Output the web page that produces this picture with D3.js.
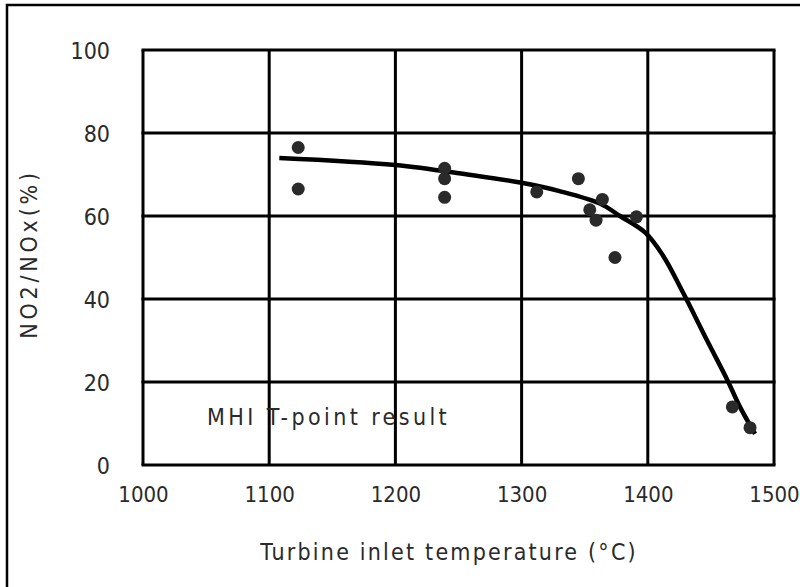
<!DOCTYPE html>
<html>
<head>
<meta charset="utf-8">
<script src="https://cdn.jsdelivr.net/npm/d3@7"></script>
<style>
  html, body { margin: 0; padding: 0; background: #fff; }
  svg { display: block; }
  text { font-family: "Liberation Sans Narrow", "DejaVu Sans Condensed", sans-serif; fill: #2a2a2a; }
</style>
</head>
<body>
<svg id="chart" width="800" height="587"></svg>
<script>
// Measured points (turbine inlet temperature °C, NO2/NOx %)
const pointTemps = [1123, 1123, 1239, 1239, 1239, 1312, 1345, 1354, 1359, 1364, 1374, 1391, 1467, 1481];
const pointValues = [76.5, 66.5, 71.5, 69, 64.5, 65.8, 69, 61.5, 59, 64, 50, 59.8, 14, 9];

// Trend curve
const curveTemps = [1108, 1200, 1257, 1300, 1330, 1362, 1378, 1398, 1412, 1428, 1447, 1463, 1473, 1485];
const curveValues = [74, 72.3, 70, 68, 66, 63, 60, 56, 50.5, 41.5, 30, 20.5, 14, 7.5];

const xTicks = [1000, 1100, 1200, 1300, 1400, 1500];
const yTicks = [0, 20, 40, 60, 80, 100];

const xTitle = "Turbine inlet temperature (\u00B0C)";
const yTitle = "NO2/NOx(%)";
const note = "MHI T-point result";

const FONT = "Liberation Sans Narrow, DejaVu Sans Condensed, sans-serif";

const svg = d3.select("#chart");
const W = 800, H = 587;
const m = { left: 143, right: 26, top: 50, bottom: 122 };

// outer frame
svg.append("path")
  .attr("d", `M7,${H + 5} L7,5 L${W + 5},5`)
  .attr("fill", "none").attr("stroke", "#000").attr("stroke-width", 2.5);

const x = d3.scaleLinear().domain([1000, 1500]).range([m.left, W - m.right]);
const y = d3.scaleLinear().domain([0, 100]).range([H - m.bottom, m.top]);

// grid
const g = svg.append("g");
g.selectAll("line.vx").data(xTicks).join("line")
  .attr("x1", d => x(d)).attr("x2", d => x(d))
  .attr("y1", y(0)).attr("y2", y(100))
  .attr("stroke", "#000").attr("stroke-width", 3);
g.selectAll("line.hy").data(yTicks).join("line")
  .attr("y1", d => y(d)).attr("y2", d => y(d))
  .attr("x1", x(1000) - 1.5).attr("x2", x(1500) + 1.5)
  .attr("stroke", "#000").attr("stroke-width", 3);

// axes (labels only)
const xAxis = d3.axisBottom(x).tickValues(xTicks).tickSize(0).tickPadding(0).tickFormat(d3.format("d"));
const xg = svg.append("g").attr("transform", `translate(0,${y(0) + 29})`).call(xAxis);
xg.select(".domain").remove();
xg.selectAll("text").attr("font-size", 22).attr("fill", "#2a2a2a")
  .attr("font-family", FONT).attr("dy", "0.35em");

const yAxis = d3.axisLeft(y).tickValues(yTicks).tickSize(0).tickPadding(0).tickFormat(d3.format("d"));
const yg = svg.append("g").attr("transform", `translate(${x(1000) - 33},0)`).call(yAxis);
yg.select(".domain").remove();
yg.selectAll("text").attr("font-size", 23).attr("fill", "#2a2a2a")
  .attr("font-family", FONT).attr("dy", "0.35em");

// titles
svg.append("text").attr("x", 449).attr("y", 553).attr("text-anchor", "middle")
  .attr("dominant-baseline", "middle").attr("font-size", 23).attr("letter-spacing", 2.2)
  .text(xTitle);
svg.append("text").attr("transform", `translate(30,254) rotate(-90)`).attr("text-anchor", "middle")
  .attr("dominant-baseline", "middle").attr("font-size", 23).attr("letter-spacing", 3.8)
  .text(yTitle);

// note
svg.append("text").attr("x", 207).attr("y", 418).attr("dominant-baseline", "middle")
  .attr("font-size", 23).attr("letter-spacing", 3.4).text(note);

// trend curve
const curveData = curveTemps.map((t, i) => [t, curveValues[i]]);
svg.append("path").datum(curveData)
  .attr("d", d3.line().x(d => x(d[0])).y(d => y(d[1])).curve(d3.curveCatmullRom))
  .attr("fill", "none").attr("stroke", "#000").attr("stroke-width", 4.5);

// points
const ptData = pointTemps.map((t, i) => [t, pointValues[i]]);
svg.selectAll("circle.pt").data(ptData).join("circle")
  .attr("cx", d => x(d[0])).attr("cy", d => y(d[1])).attr("r", 6.5)
  .attr("fill", "#2a2a2a");
</script>
</body>
</html>
